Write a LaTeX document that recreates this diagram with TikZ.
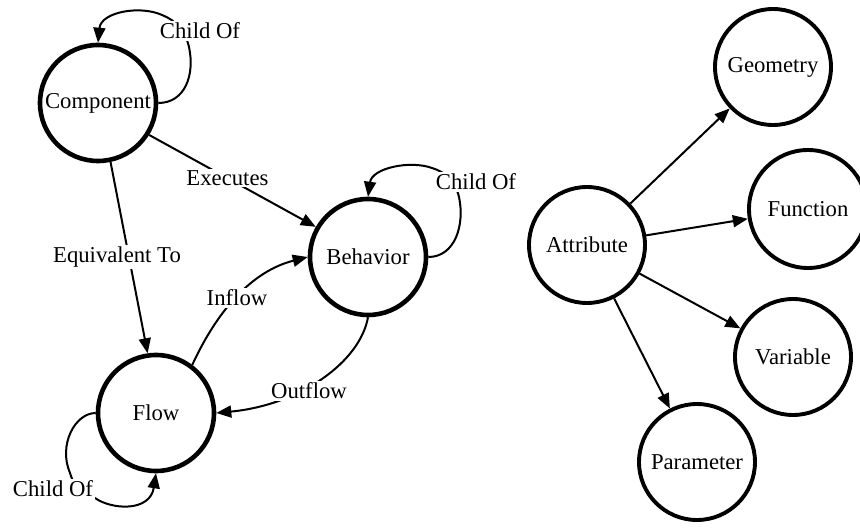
\documentclass[tikz,border=0pt]{standalone}
\usepackage{fontspec}
\setmainfont{Liberation Serif}
\usetikzlibrary{arrows.meta}
\tikzset{
  ent/.style={circle, draw=black, fill=white, line width=4.6pt, minimum size=116pt, inner sep=0pt,
    font=\fontsize{22.7}{27}\selectfont},
  attrnode/.style={ent, line width=3.9pt},
  edge/.style={line width=2pt, -{Triangle[length=15pt,width=12pt]}},
  lbl/.style={fill=white, inner sep=1.5pt, font=\fontsize{22.7}{27}\selectfont}
}
\begin{document}
\begin{tikzpicture}[x=1pt,y=-1pt]
\useasboundingbox (0,0) rectangle (860,529);
% nodes
\node[ent] (comp) at (98,103) {Component};
\node[ent] (beh) at (368,257) {Behavior};
\node[ent] (flow) at (156,413) {Flow};
\node[attrnode] (attr) at (587,245) {Attribute};
\node[attrnode] (geom) at (773,67) {Geometry};
\node[attrnode, minimum size=118pt] (func) at (808,209) {Function};
\node[attrnode] (var) at (793,357) {Variable};
\node[attrnode] (param) at (697,462) {Parameter};
% self loop component
\draw[edge] (comp.east) .. controls (185,103) and (195,75) .. (189,47)
  .. controls (185,30) and (175,20) .. (162,15)
  .. controls (140,5) and (101,12) .. (comp.north);
\node[lbl] (l1) at (200,31) {Child Of};
% executes
\draw[edge] (comp.-32) -- (beh.150) node[lbl, pos=0.47] (l2) {Executes};
% equivalent to
\draw[edge] (comp.-78) -- (flow.98);
\node[lbl] (l3) at (117,257) {Equivalent To};
% behavior self loop
\draw[edge] (beh.east) .. controls (455,257) and (465,225) .. (459,197)
  .. controls (455,180) and (445,172) .. (432,168)
  .. controls (410,160) and (372,168) .. (beh.north);
\node[lbl] (l4) at (476,182) {Child Of};
% inflow
\draw[edge] (flow.53) .. controls (212,322) and (245,273) .. (beh.west);
\node[lbl] (l5) at (237,298) {Inflow};
% outflow
\draw[edge] (beh.south) .. controls (360,362) and (300,405) .. (flow.east);
\node[lbl] (l6) at (309,391) {Outflow};
% flow self loop
\draw[edge] (flow.west) .. controls (75,413) and (58,445) .. (70,473)
  .. controls (75,490) and (85,495) .. (95,498)
  .. controls (112,510) and (150,512) .. (flow.south);
\node[lbl] (l7) at (53,489) {Child Of};
% attribute edges
\draw[edge] (attr) -- (geom);
\draw[edge] (attr) -- (func);
\draw[edge] (attr) -- (var);
\draw[edge] (attr) -- (param);
\end{tikzpicture}
\end{document}
